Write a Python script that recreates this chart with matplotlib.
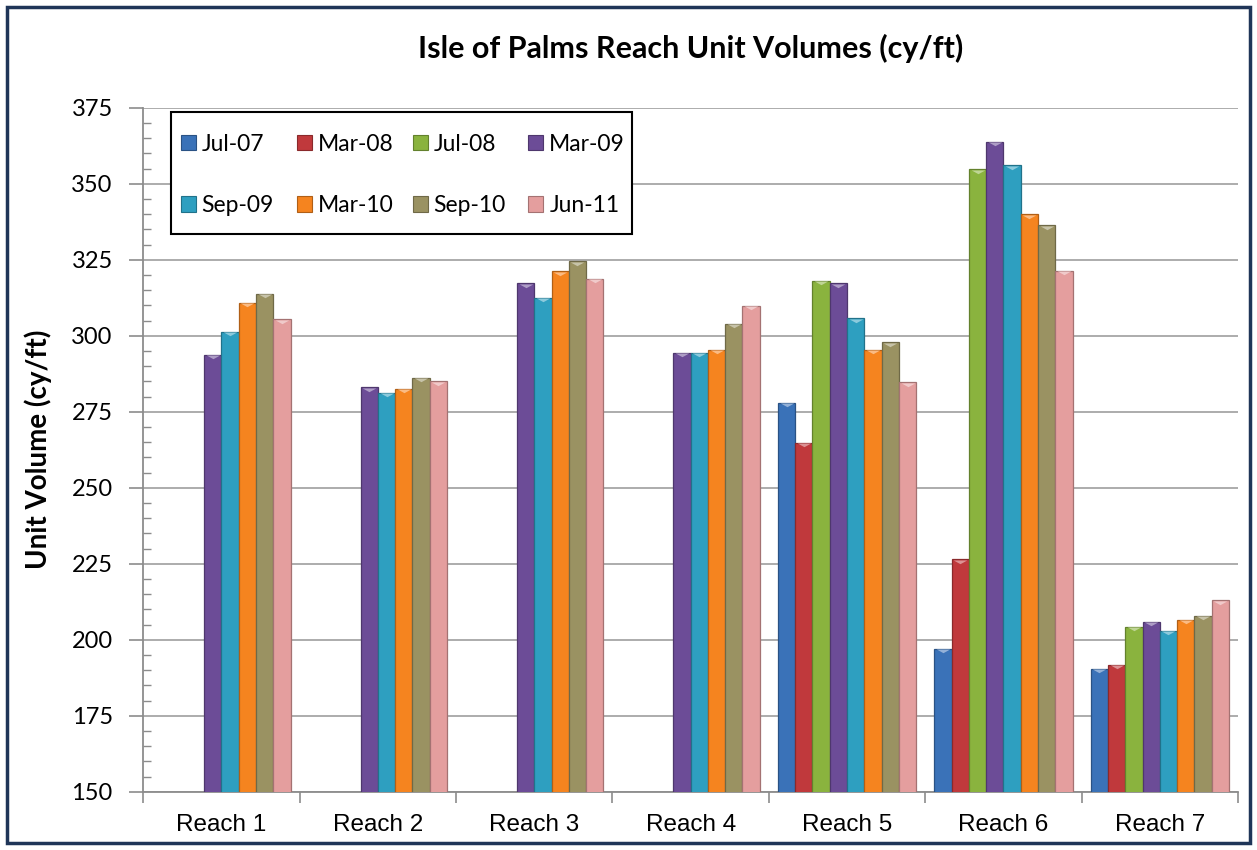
import numpy as np
import matplotlib
matplotlib.use('Agg')
import matplotlib.pyplot as plt
from matplotlib import font_manager
from matplotlib.patches import Rectangle
from matplotlib.colors import to_rgb

nan = np.nan
reaches = ['Reach 1', 'Reach 2', 'Reach 3', 'Reach 4', 'Reach 5', 'Reach 6', 'Reach 7']
surveys = ['Jul-07', 'Mar-08', 'Jul-08', 'Mar-09', 'Sep-09', 'Mar-10', 'Sep-10', 'Jun-11']

jul07 = [nan, nan, nan, nan, 278.0, 197.0, 190.5]
mar08 = [nan, nan, nan, nan, 264.7, 226.5, 191.8]
jul08 = [nan, nan, nan, nan, 318.0, 354.8, 204.2]
mar09 = [293.8, 283.0, 317.2, 294.3, 317.2, 363.8, 205.9]
sep09 = [301.2, 281.3, 312.5, 294.3, 305.8, 356.0, 202.9]
mar10 = [310.8, 282.6, 321.2, 295.4, 295.3, 340.0, 206.6]
sep10 = [313.7, 286.1, 324.5, 303.9, 297.9, 336.3, 207.9]
jun11 = [305.4, 285.0, 318.7, 309.8, 284.7, 321.4, 213.0]

series = [jul07, mar08, jul08, mar09, sep09, mar10, sep10, jun11]
colors = ['#3A72B8', '#C0393C', '#8AB33E', '#6C4C97',
          '#2E9FC0', '#F5841F', '#9A9262', '#E49E9E']

names = {f.name for f in font_manager.fontManager.ttflist}
body_font = 'Lato' if 'Lato' in names else 'DejaVu Sans'
narrow = 'Liberation Sans Narrow' if 'Liberation Sans Narrow' in names else None

W, H = 1257, 850


def darker(c, k=0.7):
    r, g, b = to_rgb(c)
    return (r * k, g * k, b * k)


def lighter(c, k=0.45):
    r, g, b = to_rgb(c)
    return (r + (1 - r) * k, g + (1 - g) * k, b + (1 - b) * k)


def fx(px):
    return px / W


def fy(py):
    return 1 - py / H


fig = plt.figure(figsize=(W / 100, H / 100), dpi=100)
ax = fig.add_axes([fx(143.3), fy(791.7), fx(1238) - fx(143.3), fy(107.7) - fy(791.7)])

# flat wide triangle used as the bevel cap on each bar
cap = [(-1, 0.3), (1, 0.3), (0, -0.25), (-1, 0.3)]

x = np.arange(len(reaches))
group = 0.884
w = group / len(series)
for j, (vals, col) in enumerate(zip(series, colors)):
    xs = x + (j - 3.5) * w
    ax.bar(xs, vals, width=w, color=col,
           edgecolor=darker(col, 0.72), linewidth=0.9, zorder=3)
    ax.scatter(xs, np.array(vals) - 0.8, marker=cap, s=95, color=lighter(col),
               linewidths=0, zorder=4)

ax.set_xlim(-0.5, len(reaches) - 0.5)
ax.set_ylim(150, 375)
ax.set_yticks(np.arange(150, 376, 25))
ax.set_yticks(np.arange(150, 376, 5), minor=True)
ax.yaxis.grid(True, color='#A6A6A6', linewidth=1.3, zorder=0)
ax.set_axisbelow(True)

ax.set_xticks(x)
ax.set_xticks(np.arange(-0.5, len(reaches), 1), minor=True)
if narrow:
    ax.set_xticklabels(reaches, fontsize=20.5, fontfamily=narrow)
else:
    ax.set_xticklabels(reaches, fontsize=17.5, fontfamily='Liberation Sans')
ax.tick_params(axis='x', which='major', length=0, pad=16)
ax.tick_params(axis='x', which='minor', length=8, width=1.2, color='#8C8C8C', direction='out')
ax.tick_params(axis='y', which='major', length=10, width=1.2, color='#8C8C8C',
               direction='out', pad=12, labelsize=17)
ax.tick_params(axis='y', which='minor', length=6, width=1.0, color='#8C8C8C', direction='in')
for lab in ax.get_yticklabels():
    lab.set_fontfamily(body_font)

for s in ['top', 'right']:
    ax.spines[s].set_visible(False)
for s in ['left', 'bottom']:
    ax.spines[s].set_color('#8C8C8C')
    ax.spines[s].set_linewidth(1.3)

ax.set_ylabel('Unit Volume (cy/ft)', fontsize=20, fontweight='bold', fontfamily=body_font)
ax.yaxis.set_label_coords((52 - 143.3) / 1094.7, 0.5)

fig.text(fx((143.3 + 1238) / 2), fy(48), 'Isle of Palms Reach Unit Volumes (cy/ft)',
         ha='center', va='center', fontsize=22, fontweight='bold', fontfamily=body_font)

# legend laid out like the Excel one: 4 columns, 2 rows, even spacing
leg_x0, leg_y0, leg_x1, leg_y1 = 171, 112, 632, 234
col_x = [180.7, 297.3, 412.7, 528.3]
row_y = [142.3, 204.0]
sq = 15
fig.patches.append(Rectangle((fx(leg_x0), fy(leg_y1)), fx(leg_x1) - fx(leg_x0),
                             fy(leg_y0) - fy(leg_y1), transform=fig.transFigure,
                             facecolor='white', edgecolor='black', linewidth=1.5, zorder=5))
for i, (name, col) in enumerate(zip(surveys, colors)):
    cx = col_x[i % 4]
    cy = row_y[i // 4]
    fig.patches.append(Rectangle((fx(cx), fy(cy + sq / 2)), fx(sq), sq / H,
                                 transform=fig.transFigure, facecolor=col,
                                 edgecolor=darker(col, 0.72), linewidth=0.8, zorder=6))
    fig.text(fx(cx + sq + 6), fy(cy), name, ha='left', va='center_baseline',
             fontsize=16.5, fontfamily=body_font, zorder=6)

fig.patches.append(Rectangle((fx(7), fy(843)), fx(1243), 836 / H,
                             transform=fig.transFigure, fill=False,
                             edgecolor='#1F3558', linewidth=2.5))

fig.savefig('out.png', dpi=100)
